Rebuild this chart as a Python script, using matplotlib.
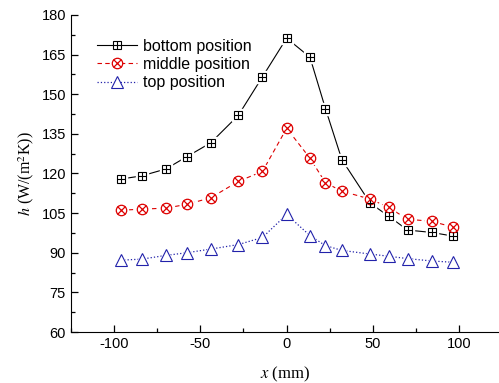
import matplotlib
matplotlib.use('Agg')
import matplotlib.pyplot as plt
from matplotlib.ticker import MultipleLocator
from matplotlib.legend_handler import HandlerTuple

plt.rcParams['font.family'] = ['Liberation Sans', 'DejaVu Sans']
plt.rcParams['mathtext.fontset'] = 'stix'
plt.rcParams['axes.unicode_minus'] = False

# data
x_pos = [-96, -84, -70, -58, -44, -28, -14, 0, 13.5, 22.5, 32, 48.5, 59, 70, 84, 96.5]
bottom = [117.9, 119.1, 121.7, 126.3, 131.6, 142.0, 156.6, 171.2, 164.0, 144.5,
          125.2, 108.7, 103.9, 98.6, 97.7, 96.3]
middle = [106.1, 106.5, 106.9, 108.3, 110.8, 117.0, 120.8, 137.1, 125.8, 116.5,
          113.3, 110.3, 107.2, 102.7, 101.9, 99.7]
top = [87.2, 87.6, 89.0, 90.0, 91.4, 93.1, 95.8, 104.5, 96.5, 92.7,
       90.9, 89.5, 88.7, 87.8, 86.9, 86.4]

fig = plt.figure(figsize=(4.99, 3.83), dpi=100)
ax = fig.add_axes([0.142, 0.133, 0.858, 0.828])

# lines, then white halos so lines stop short of markers
l1, = ax.plot(x_pos, bottom, '-', color='black', lw=0.8)
l2, = ax.plot(x_pos, middle, '--', color='#dd0000', lw=0.8, dashes=(4, 3))
l3, = ax.plot(x_pos, top, ':', color='#2222aa', lw=0.9)
for ys, m, s in [(bottom, 's', 8), (middle, 'o', 10), (top, '^', 10)]:
    ax.plot(x_pos, ys, m, ms=s, color='white', zorder=3)

m1a, = ax.plot(x_pos, bottom, 's', ms=5.2, mfc='white', mec='black', mew=0.8, zorder=4)
m1b, = ax.plot(x_pos, bottom, '+', ms=5.2, color='black', mew=0.8, zorder=5)
m2a, = ax.plot(x_pos, middle, 'o', ms=7.5, mfc='white', mec='#dd0000', mew=0.9, zorder=4)
m2b, = ax.plot(x_pos, middle, 'x', ms=5.2, color='#dd0000', mew=0.9, zorder=5)
m3, = ax.plot(x_pos, top, '^', ms=8, mfc='white', mec='#2222aa', mew=0.8, zorder=4)

ax.set_xlim(-125, 123)
ax.set_ylim(60, 180)
ax.xaxis.set_major_locator(MultipleLocator(50))
ax.xaxis.set_minor_locator(MultipleLocator(25))
ax.yaxis.set_major_locator(MultipleLocator(15))
ax.yaxis.set_minor_locator(MultipleLocator(7.5))
ax.tick_params(which='both', direction='in', labelsize=10.5, width=0.9)
ax.tick_params(which='major', length=5)
ax.tick_params(which='minor', length=3)
ax.spines['top'].set_visible(False)
ax.spines['right'].set_visible(False)

ax.set_xlabel(r'$x$ (mm)', fontsize=12, family='Liberation Serif', labelpad=10)
ax.set_ylabel(r'$h$ (W/(m$^2$K))', fontsize=11.5, family='Liberation Serif')

ax.legend([(l1, m1a, m1b), (l2, m2a, m2b), (l3, m3)],
          ['bottom position', 'middle position', 'top position'],
          handler_map={tuple: HandlerTuple(ndivide=1)},
          loc='upper left', bbox_to_anchor=(0.035, 0.96), frameon=False,
          fontsize=11.5, handlelength=2.5, handletextpad=0.4, labelspacing=0.2,
          borderaxespad=0.3)

fig.savefig('out.png', dpi=100)
